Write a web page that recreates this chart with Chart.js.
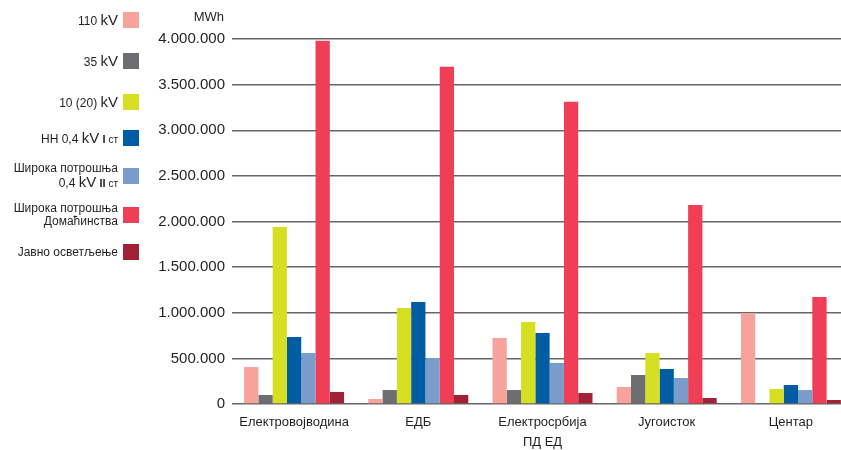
<!DOCTYPE html>
<html>
<head>
<meta charset="utf-8">
<script src="https://cdn.jsdelivr.net/npm/chart.js@4/dist/chart.umd.min.js"></script>
<style>
body{margin:0;overflow:hidden;background:#fff;font-family:"Liberation Sans",Arial,sans-serif;color:#231f20}
#wrap{position:relative;width:853px;height:450px}
#c{position:absolute;left:0;top:0}
.lg{position:absolute;left:0;width:118px;text-align:right;font-size:12px;line-height:13px;transform:translateY(-50%);white-space:nowrap}
.lg .kv{font-size:15px}
.lg .rn{font-size:11px;font-weight:bold}
.lg .st{font-size:10px}
.box{position:absolute;left:123px;width:16px;height:16px}
#unit{position:absolute;right:629px;top:9px;font-size:13px}
</style>
</head>
<body>
<div id="wrap">
  <canvas id="c" width="853" height="450"></canvas>
  <div id="unit">MWh</div>
</div>
<script>
// categories (ПД ЕД)
const categories = ['Електровојводина', 'ЕДБ', 'Електросрбија', 'Југоисток', 'Центар'];

// series names + colours
const seriesNames = ['110 kV', '35 kV', '10 (20) kV', 'НН 0,4 kV I ст',
  'Широка потрошња\n0,4 kV II ст', 'Широка потрошња\nДомаћинства', 'Јавно осветљење'];
const seriesColors = ['#f7a39b', '#6d6e71', '#d7df23', '#005da4', '#7a9ccb', '#ef3e55', '#a12236'];

// values in MWh
const kv110      = [405000, 55000, 724000, 186000, 998000];
const kv35       = [99000, 153000, 153000, 318000, 4000];
const kv10       = [1941000, 1053000, 899000, 559000, 164000];
const nn04       = [735000, 1118000, 778000, 384000, 208000];
const wide04     = [559000, 504000, 450000, 285000, 153000];
const households = [3980000, 3695000, 3311000, 2182000, 1173000];
const publicLight= [132000, 99000, 121000, 66000, 44000];

const yTicks = [0, 500000, 1000000, 1500000, 2000000, 2500000, 3000000, 3500000, 4000000];

// legend layout (vertical centres of the boxes)
const legendTops = [20, 61, 102, 138, 176, 215, 252];

const allValues = [kv110, kv35, kv10, nn04, wide04, households, publicLight];

function dots(v) {
  return String(v).replace(/\B(?=(\d{3})+(?!\d))/g, '.');
}

function fmtLabel(s) {
  return s.split('\n').map(line => line
    .replace(/ (I+) ст/, ' <b class="rn">$1</b><span class="st"> ст</span>')
    .replace('kV', '<span class="kv">kV</span>')).join('<br>');
}

// html legend on the left
const wrap = document.getElementById('wrap');
seriesNames.forEach((name, i) => {
  const t = document.createElement('div');
  t.className = 'lg';
  t.style.top = legendTops[i] + 'px';
  t.innerHTML = fmtLabel(name);
  wrap.appendChild(t);
  const b = document.createElement('div');
  b.className = 'box';
  b.style.top = (legendTops[i] - 8) + 'px';
  b.style.background = seriesColors[i];
  wrap.appendChild(b);
});

const FONT = '"Liberation Sans", Arial, sans-serif';

const chart = new Chart(document.getElementById('c'), {
  type: 'bar',
  data: {
    labels: categories,
    datasets: allValues.map((vals, i) => ({
      label: seriesNames[i],
      data: vals,
      backgroundColor: seriesColors[i],
      borderWidth: 0,
      barPercentage: 1.0,
      categoryPercentage: 0.805
    }))
  },
  options: {
    responsive: false,
    animation: false,
    layout: { padding: { top: 39, right: 0, left: 0, bottom: 0 } },
    plugins: {
      legend: { display: false },
      tooltip: { enabled: false }
    },
    scales: {
      x: {
        grid: { display: false, drawTicks: false },
        border: { display: false },
        ticks: { color: '#231f20', font: { family: FONT, size: 13 }, padding: 11, maxRotation: 0 },
        title: { display: true, text: 'ПД ЕД', color: '#231f20', font: { family: FONT, size: 13 }, padding: { top: 3, bottom: 0 } },
        afterFit: s => { s.height = 46; }
      },
      y: {
        min: 0,
        max: 4000000,
        afterBuildTicks: s => { s.ticks = yTicks.map(v => ({ value: v })); },
        grid: { color: '#666', lineWidth: 1.5, drawTicks: false },
        border: { display: false },
        ticks: { color: '#231f20', font: { family: FONT, size: 15 }, padding: 7, callback: v => dots(v) },
        afterFit: s => { s.width = 232; }
      }
    }
  }
});
</script>
</body>
</html>
